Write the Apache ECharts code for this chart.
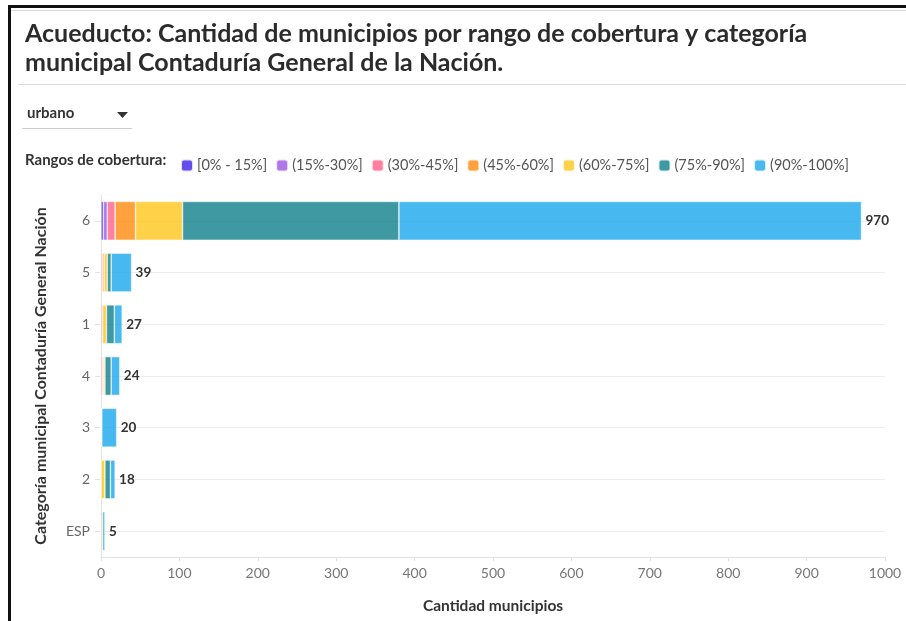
<!DOCTYPE html>
<html>
<head>
<meta charset="UTF-8">
<title>Acueducto cobertura</title>
<script src="https://cdn.jsdelivr.net/npm/echarts@6/dist/echarts.min.js"></script>
<style>
  html, body { margin: 0; padding: 0; background: #fff; }
  #chart { width: 906px; height: 621px; }
</style>
</head>
<body>
<div id="chart"></div>
<script>
// categorias de arriba hacia abajo
var categorias = ['6', '5', '1', '4', '3', '2', 'ESP'];
var rangos = ['[0% - 15%]', '(15%-30%]', '(30%-45%]', '(45%-60%]', '(60%-75%]', '(75%-90%]', '(90%-100%]'];
var colores = ['#3d22e6', '#9b55e4', '#ff5f87', '#ff8a0d', '#ffc61a', '#0e7f8c', '#1aa6ee'];

// cantidad de municipios por rango, mismo orden que categorias
var r0_15   = [3, 0, 0, 0, 0, 0, 0];
var r15_30  = [5, 0, 0, 0, 0, 0, 0];
var r30_45  = [10, 2, 2, 2, 1, 0, 0];
var r45_60  = [26, 2, 0, 1, 0, 0, 2];
var r60_75  = [60, 4, 5, 2, 0, 5, 0];
var r75_90  = [276, 5, 10, 8, 0, 7, 0];
var r90_100 = [590, 26, 10, 11, 19, 6, 3];
var totales = [970, 39, 27, 24, 20, 18, 5];

var valores = [r0_15, r15_30, r30_45, r45_60, r60_75, r75_90, r90_100];

var chart = echarts.init(document.getElementById('chart'));
var fuente = 'Lato, "Open Sans", sans-serif';

var series = rangos.map(function (nombre, i) {
  return {
    name: nombre,
    type: 'bar',
    stack: 'total',
    barCategoryGap: '25%',
    itemStyle: { color: colores[i], opacity: 0.8, borderColor: '#fff', borderWidth: 0.6 },
    emphasis: { disabled: true },
    data: valores[i]
  };
});
// serie vacia solo para las etiquetas de total
series.push({
  name: 'total',
  type: 'bar',
  stack: 'total',
  silent: true,
  itemStyle: { color: 'transparent' },
  label: {
    show: true,
    position: 'right',
    distance: 4,
    color: '#333',
    fontWeight: 'bold',
    fontSize: 13.5,
    fontFamily: fuente,
    formatter: function (p) { return totales[p.dataIndex]; }
  },
  data: totales.map(function () { return 0; })
});

var option = {
  backgroundColor: '#fff',
  animation: false,
  textStyle: { fontFamily: fuente },
  graphic: [
    // marco de la captura
    { type: 'rect', shape: { x: 8, y: 5, width: 898, height: 3 }, style: { fill: '#111' } },
    { type: 'rect', shape: { x: 8, y: 5, width: 3, height: 616 }, style: { fill: '#111' } },
    { type: 'rect', shape: { x: 11, y: 10, width: 895, height: 1 }, style: { fill: '#ddd' } },
    // titulo
    {
      type: 'text', left: 25, top: 19,
      style: {
        text: 'Acueducto: Cantidad de municipios por rango de cobertura y categoría\nmunicipal Contaduría General de la Nación.',
        fontSize: 25, fontWeight: 'bold', lineHeight: 29, fill: '#2b2b2b', fontFamily: fuente
      }
    },
    { type: 'rect', shape: { x: 18, y: 84, width: 888, height: 1 }, style: { fill: '#dcdcdc' } },
    // selector
    { type: 'text', left: 27, top: 106, style: { text: 'urbano', fontSize: 15, fontWeight: 'bold', fill: '#333', fontFamily: fuente } },
    { type: 'polygon', shape: { points: [[117, 112], [128, 112], [122.5, 118]] }, style: { fill: '#333' } },
    { type: 'rect', shape: { x: 22, y: 128, width: 110, height: 1 }, style: { fill: '#ccc' } },
    // titulo de la leyenda
    { type: 'text', left: 25, top: 153, style: { text: 'Rangos de cobertura:', fontSize: 15, fontWeight: 'bold', fill: '#333', fontFamily: fuente } }
  ],
  legend: {
    data: rangos,
    left: 175,
    top: 153,
    itemWidth: 12,
    itemHeight: 12,
    itemGap: 8,
    icon: 'roundRect',
    selectedMode: false,
    textStyle: { color: '#555', fontSize: 14.5, fontFamily: fuente, padding: [0, 0, 0, -1] }
  },
  grid: { left: 101, right: 21, top: 195, bottom: 64, containLabel: false },
  xAxis: {
    type: 'value',
    min: 0,
    max: 1000,
    interval: 100,
    name: 'Cantidad municipios',
    nameLocation: 'middle',
    nameGap: 41,
    nameTextStyle: { color: '#333', fontWeight: 'bold', fontSize: 15.5 },
    axisLine: { show: true, lineStyle: { color: '#e3e3e3' } },
    axisTick: { show: true, length: 4, lineStyle: { color: '#e3e3e3' } },
    axisLabel: { color: '#777', fontSize: 14, margin: 9, formatter: function (v) { return String(v); } },
    splitLine: { show: false }
  },
  yAxis: {
    type: 'category',
    data: categorias,
    inverse: true,
    name: 'Categoría municipal Contaduría General Nación',
    nameLocation: 'middle',
    nameGap: 52,
    nameTextStyle: { color: '#333', fontWeight: 'bold', fontSize: 16 },
    axisLine: { show: true, lineStyle: { color: '#e3e3e3' } },
    axisTick: { show: true, alignWithLabel: true, length: 6, lineStyle: { color: '#e3e3e3' } },
    axisLabel: { color: '#666', fontSize: 14, margin: 11 },
    splitLine: { show: true, alignWithLabel: true, lineStyle: { color: '#ececec' } }
  },
  series: series
};

chart.setOption(option);
window.addEventListener('resize', function () { chart.resize(); });
</script>
</body>
</html>
